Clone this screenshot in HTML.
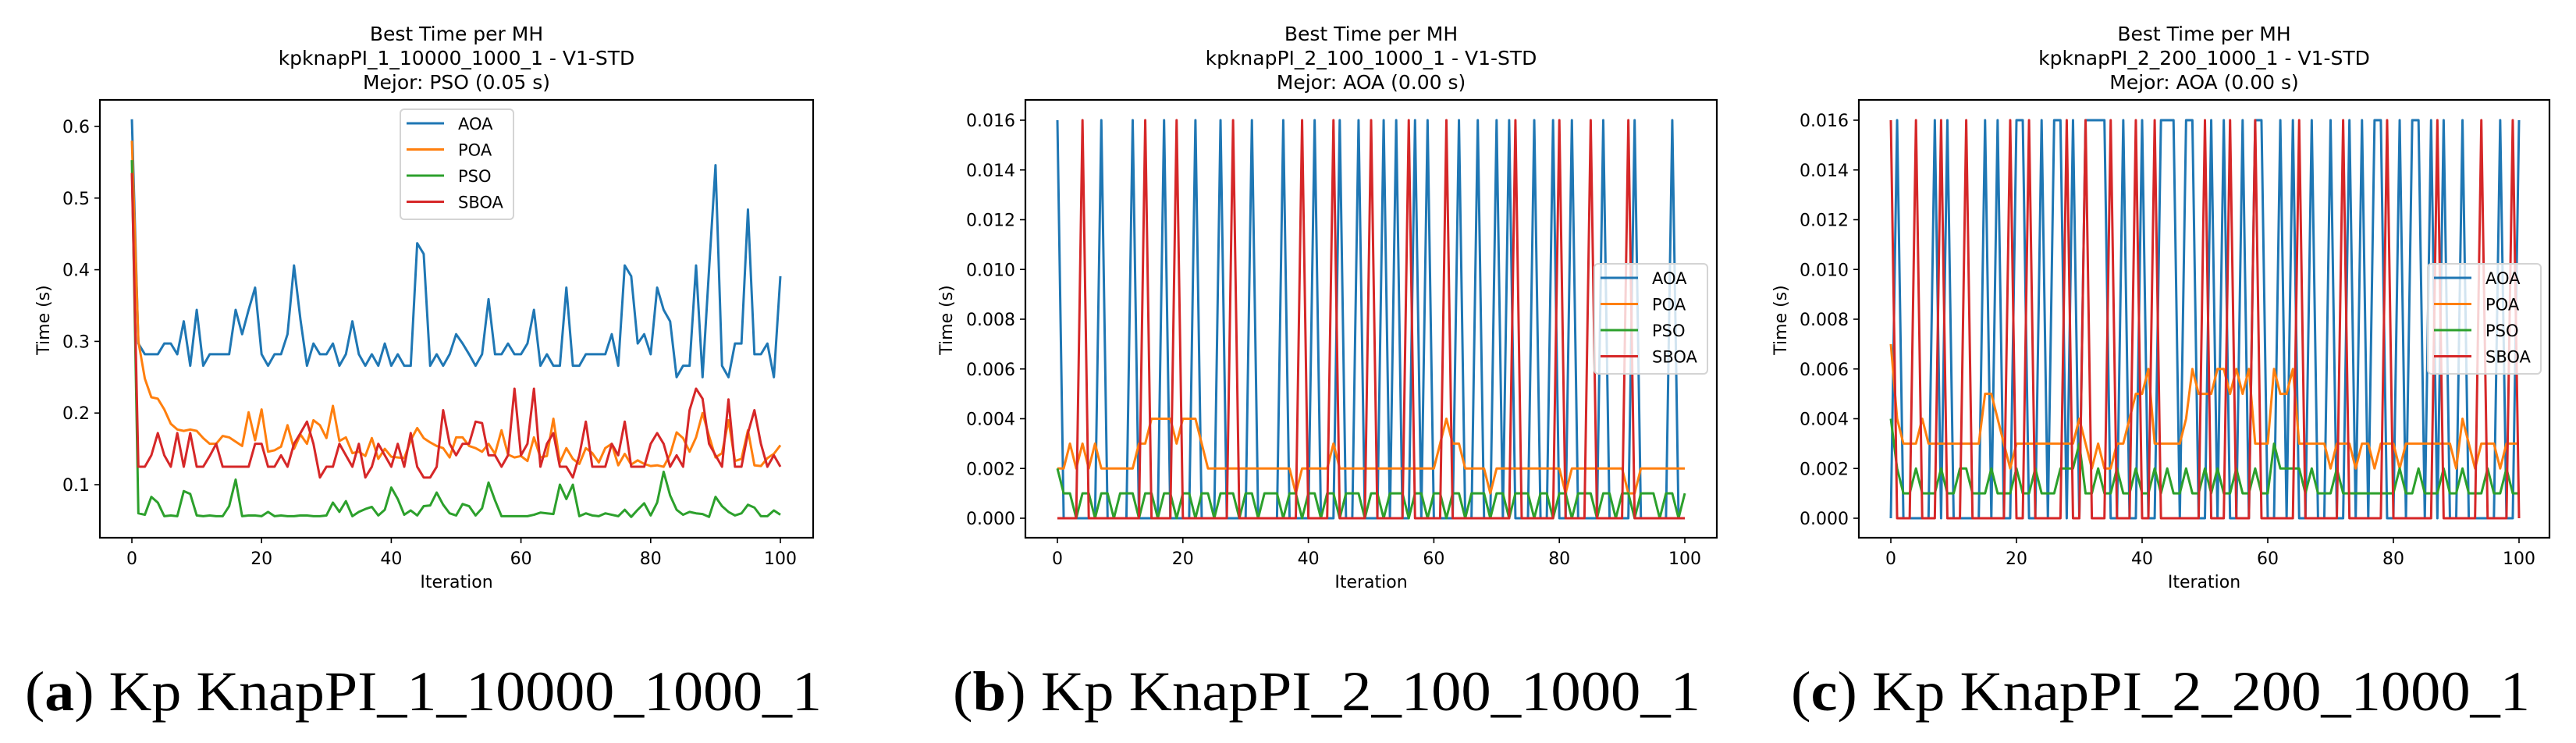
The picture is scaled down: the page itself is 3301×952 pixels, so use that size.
<!DOCTYPE html>
<html><head><meta charset="utf-8">
<style>
html,body{margin:0;padding:0;background:#fff;}
svg{display:block;}
text{font-family:"DejaVu Sans","Liberation Sans",sans-serif;fill:#000;}
.cap{font-family:"Liberation Serif",serif;font-size:72px;}
</style></head>
<body>
<svg id="fig" width="3301" height="952" viewBox="0 0 3301 952" xmlns="http://www.w3.org/2000/svg">
<rect x="0" y="0" width="3301" height="952" fill="#fff"/>
<text class="cap" x="32" y="910" textLength="1021" lengthAdjust="spacingAndGlyphs">(<tspan font-weight="bold">a</tspan>) Kp KnapPI_1_10000_1000_1</text>
<text class="cap" x="1221" y="910" textLength="958" lengthAdjust="spacingAndGlyphs">(<tspan font-weight="bold">b</tspan>) Kp KnapPI_2_100_1000_1</text>
<text class="cap" x="2295" y="910" textLength="947" lengthAdjust="spacingAndGlyphs">(<tspan font-weight="bold">c</tspan>) Kp KnapPI_2_200_1000_1</text>
</svg>
<script>
// ---- data ----
const seriesNames = ["AOA","POA","PSO","SBOA"];
const seriesColors = ["#1f77b4","#ff7f0e","#2ca02c","#d62728"];
const xTicks = [0,20,40,60,80,100];

// Panel a (seconds)
const aAOA = [0.61,0.297,0.282,0.282,0.282,0.297,0.297,0.282,0.328,0.266,
0.344,0.266,0.282,0.282,0.282,0.282,0.344,0.31,0.344,0.375,
0.282,0.266,0.282,0.282,0.31,0.406,0.33,0.266,0.297,0.282,
0.282,0.297,0.266,0.282,0.328,0.282,0.266,0.282,0.266,0.297,
0.266,0.282,0.266,0.266,0.437,0.422,0.266,0.282,0.266,0.282,
0.31,0.297,0.282,0.266,0.282,0.359,0.282,0.282,0.297,0.282,
0.282,0.297,0.344,0.266,0.282,0.266,0.266,0.375,0.266,0.266,
0.282,0.282,0.282,0.282,0.31,0.266,0.406,0.391,0.297,0.31,
0.282,0.375,0.344,0.328,0.25,0.266,0.266,0.406,0.25,0.4,
0.546,0.266,0.25,0.297,0.297,0.484,0.282,0.282,0.297,0.25,0.391];
const aPOA = [0.58,0.3,0.248,0.222,0.22,0.205,0.185,0.177,0.175,0.177,
0.175,0.165,0.157,0.157,0.168,0.166,0.16,0.154,0.201,0.162,
0.205,0.146,0.148,0.153,0.183,0.15,0.17,0.157,0.19,0.183,
0.165,0.21,0.161,0.166,0.144,0.146,0.14,0.165,0.136,0.15,
0.139,0.138,0.137,0.162,0.179,0.165,0.159,0.154,0.151,0.138,
0.166,0.166,0.154,0.151,0.146,0.157,0.143,0.176,0.142,0.138,
0.14,0.133,0.166,0.138,0.14,0.192,0.131,0.151,0.136,0.129,
0.151,0.144,0.131,0.151,0.157,0.127,0.143,0.128,0.134,0.129,
0.126,0.127,0.125,0.142,0.173,0.165,0.146,0.166,0.2,0.168,
0.138,0.144,0.19,0.133,0.136,0.176,0.127,0.126,0.137,0.143,0.155];
const aPSO = [0.553,0.06,0.058,0.083,0.075,0.056,0.057,0.056,0.091,0.087,
0.057,0.056,0.057,0.056,0.056,0.07,0.107,0.056,0.057,0.057,
0.056,0.062,0.056,0.057,0.056,0.056,0.057,0.057,0.056,0.056,
0.057,0.075,0.062,0.077,0.056,0.062,0.066,0.069,0.057,0.065,
0.096,0.08,0.058,0.064,0.057,0.07,0.071,0.089,0.072,0.06,
0.057,0.073,0.07,0.057,0.067,0.103,0.078,0.056,0.056,0.056,
0.056,0.056,0.058,0.061,0.06,0.059,0.1,0.08,0.1,0.056,
0.06,0.057,0.056,0.06,0.058,0.056,0.065,0.055,0.065,0.074,
0.057,0.075,0.118,0.085,0.065,0.058,0.062,0.06,0.059,0.055,
0.083,0.07,0.062,0.057,0.06,0.072,0.068,0.056,0.056,0.064,0.058];
const aSBOA = [0.535,0.125,0.125,0.141,0.172,0.141,0.125,0.172,0.125,0.172,
0.125,0.125,0.14,0.157,0.125,0.125,0.125,0.125,0.125,0.157,
0.157,0.125,0.125,0.141,0.125,0.157,0.172,0.188,0.157,0.11,
0.125,0.125,0.157,0.141,0.125,0.157,0.11,0.125,0.157,0.141,
0.125,0.157,0.125,0.172,0.125,0.11,0.11,0.125,0.204,0.157,
0.141,0.157,0.157,0.188,0.186,0.141,0.141,0.125,0.141,0.234,
0.141,0.157,0.234,0.125,0.157,0.172,0.125,0.125,0.11,0.141,
0.188,0.125,0.125,0.125,0.157,0.141,0.188,0.125,0.125,0.125,
0.157,0.172,0.157,0.125,0.141,0.125,0.204,0.234,0.22,0.157,
0.141,0.125,0.219,0.125,0.125,0.172,0.204,0.157,0.125,0.141,0.125];
const aYTicks = [0.1,0.2,0.3,0.4,0.5,0.6];
const aYLabels = ["0.1","0.2","0.3","0.4","0.5","0.6"];

// Panel b (milliseconds)
const bAOA = [16,0,0,0,0,0,0,16,0,0, 0,0,16,0,0,0,0,16,0,0, 0,0,16,0,0,0,16,0,0,0,
0,16,0,0,0,0,16,0,0,0, 0,16,0,0,0,16,0,0,16,0, 0,0,16,0,16,0,0,16,0,16,
0,0,0,0,16,0,0,16,0,0, 16,0,16,0,0,0,16,0,0,16, 0,0,16,0,0,0,0,16,0,0,
0,0,16,0,0,0,0,0,16,0, 0];
const bPOA = [2,2,3,2,3,2,3,2,2,2, 2,2,2,3,3,4,4,4,4,3, 4,4,4,3,2,2,2,2,2,2,
2,2,2,2,2,2,2,2,1,2, 2,2,2,2,3,2,2,2,2,2, 2,2,2,2,2,2,2,2,2,2,
2,3,4,3,3,2,2,2,2,1, 2,2,2,2,2,2,2,2,2,2, 2,1,2,2,2,2,2,2,2,2,
2,1,1,2,2,2,2,2,2,2, 2];
const bPSO = [2,1,1,0,1,1,0,1,1,0, 1,1,1,0,1,1,0,1,1,0, 1,1,0,1,1,0,1,1,1,0,
1,1,0,1,1,1,0,1,1,0, 1,1,0,1,1,0,1,1,1,0, 1,1,0,1,1,1,0,1,1,0,
1,1,0,1,1,0,1,1,1,0, 1,1,0,1,1,1,0,1,1,0, 1,1,0,1,1,1,0,1,1,0,
1,1,0,1,1,1,0,1,1,0, 1];
const bSBOA = [0,0,0,0,16,0,0,0,0,0, 0,0,0,0,16,0,0,0,0,16, 0,0,0,0,0,0,0,0,16,0,
0,0,0,0,0,0,0,0,0,16, 0,0,0,0,16,0,0,0,0,0, 16,0,0,0,0,0,16,0,0,0,
0,0,16,0,0,0,0,0,0,0, 0,0,0,16,0,0,0,0,0,0, 16,0,0,0,0,16,0,0,0,0,
0,16,0,0,0,0,0,0,0,0, 0];

// Panel c (milliseconds)
const cAOA = [0,16,0,0,0,0,0,16,0,16, 0,0,0,0,0,16,0,16,0,0, 16,16,0,0,16,0,16,16,0,16,
0,16,16,16,16,0,0,16,0,0, 16,0,0,16,16,16,0,16,16,0, 0,16,0,16,0,0,16,0,16,16,
0,0,16,0,16,0,0,16,0,0, 16,0,0,16,0,16,0,16,16,0, 0,16,0,16,16,0,16,0,16,0,
0,16,0,0,0,0,0,16,0,0, 16];
const cPOA = [7,4,3,3,3,4,3,3,3,3, 3,3,3,3,3,5,5,4,3,2, 3,3,3,3,3,3,3,3,3,3,
4,3,2,3,2,2,3,3,4,5, 5,6,3,3,3,3,3,4,6,5, 5,5,6,6,5,6,5,6,3,3,
3,6,5,5,6,3,3,3,3,3, 2,3,3,3,2,3,3,2,3,3, 3,2,3,3,3,3,3,3,3,3,
2,4,3,2,3,3,3,2,3,3, 3];
const cPSO = [4,2,1,1,2,1,1,1,2,1, 1,2,2,1,1,1,2,1,1,1, 2,1,1,2,1,1,1,2,2,2,
3,1,1,2,1,1,2,1,1,2, 1,1,2,1,2,1,1,2,1,1, 2,1,2,1,1,2,1,1,2,1,
1,3,2,2,2,2,1,2,1,1, 1,2,1,1,1,1,1,1,1,1, 1,2,1,1,2,1,1,1,2,1,
1,2,1,1,1,2,1,1,2,1, 1];
const cSBOA = [16,0,0,0,16,0,0,0,16,0, 0,0,16,0,0,0,0,0,0,16, 0,0,16,0,0,0,0,0,16,0,
0,16,0,0,0,16,0,0,0,16, 0,0,16,0,0,0,0,0,0,0, 16,0,0,0,16,0,0,0,16,0,
0,0,0,0,0,16,0,0,0,0, 0,0,16,0,0,0,0,0,0,16, 0,0,0,0,0,0,0,16,0,0,
0,0,0,0,16,0,0,0,0,16, 0];
const bcYTicks = [0,2,4,6,8,10,12,14,16];
const bcYLabels = ["0.000","0.002","0.004","0.006","0.008","0.010","0.012","0.014","0.016"];

// ---- drawing ----
const NS = "http://www.w3.org/2000/svg";
const svg = document.getElementById("fig");
function mk(tag, attrs, parent){
  const e = document.createElementNS(NS, tag);
  for (const k in attrs) e.setAttribute(k, attrs[k]);
  (parent||svg).appendChild(e);
  return e;
}

function drawPanel(p){
  const g = mk("g", {});
  
  
  const xs = i => p.x0 + (i - 0) * (p.x100 - p.x0) / 100;
  const ys = v => p.yA + (v - p.vA) * (p.yB - p.yA) / (p.vB - p.vA);

  // series lines
  p.series.forEach((arr, si) => {
    let d = "";
    arr.forEach((v, i) => { d += (i ? "L" : "M") + xs(i).toFixed(2) + " " + ys(v).toFixed(2); });
    const path = mk("path", {d: d, fill: "none", stroke: seriesColors[si], "stroke-width": 3, "stroke-linejoin": "round"}, g);
    
    
  });

  // frame
  const fr = mk("rect", {x: p.L, y: p.T, width: p.R - p.L, height: p.B - p.T, fill: "none", stroke: "#000", "stroke-width": 2.2}, g);
  
  

  // x ticks
  xTicks.forEach(t => {
    const x = xs(t);
    mk("line", {x1: x, x2: x, y1: p.B, y2: p.B + 7, stroke: "#000", "stroke-width": 1.6}, g);
    const tx = mk("text", {x: x, y: 723, "font-size": 22, "text-anchor": "middle"}, g);
    tx.textContent = String(t);
    
    
  });
  // y ticks
  p.yTicks.forEach((t, k) => {
    const y = ys(t);
    mk("line", {x1: p.L - 7, x2: p.L, y1: y, y2: y, stroke: "#000", "stroke-width": 1.6}, g);
    const ty = mk("text", {x: p.L - 13, y: y + 8, "font-size": 22, "text-anchor": "end"}, g);
    ty.textContent = p.yLabels[k];
    
    
  });

  // axis titles
  const cx = (p.L + p.R) / 2;
  const xl = mk("text", {x: cx, y: 753, "font-size": 22, "text-anchor": "middle"}, g);
  xl.textContent = "Iteration";
  
  
  const yl = mk("text", {x: 0, y: 0, "font-size": 22, "text-anchor": "middle", transform: "translate(" + p.ylabX + ",410) rotate(-90)"}, g);
  yl.textContent = "Time (s)";
  
  

  // title
  p.title.forEach((line, k) => {
    const t = mk("text", {x: cx, y: 52 + k * 31, "font-size": 25, "text-anchor": "middle"}, g);
    t.textContent = line;
    
    
  });

  // legend
  const lg = mk("g", {}, g);
  
  
  mk("rect", {x: p.lx, y: p.ly, width: 145, height: 141, rx: 5, fill: "#fff", "fill-opacity": 0.8, stroke: "#d4d4d4", "stroke-width": 2}, lg);
  seriesNames.forEach((n, si) => {
    const yy = p.ly + 18 + si * 33.5;
    const ln = mk("line", {x1: p.lx + 8, x2: p.lx + 56, y1: yy, y2: yy, stroke: seriesColors[si], "stroke-width": 3}, lg);
    
    
    const tt = mk("text", {x: p.lx + 74, y: yy + 8, "font-size": 21}, lg);
    tt.textContent = n;
    
    
  });
}

drawPanel({id: "panel-a", L: 128, R: 1042, T: 128, B: 689, x0: 169, x100: 1000,
  vA: 0.6, yA: 162, vB: 0.1, yB: 621, yTicks: aYTicks, yLabels: aYLabels, ylabX: 63,
  series: [aAOA, aPOA, aPSO, aSBOA], lx: 513, ly: 140,
  title: ["Best Time per MH", "kpknapPI_1_10000_1000_1 - V1-STD", "Mejor: PSO (0.05 s)"]});
drawPanel({id: "panel-b", L: 1314, R: 2200, T: 128, B: 689, x0: 1355, x100: 2159,
  vA: 16, yA: 154, vB: 0, yB: 664, yTicks: bcYTicks, yLabels: bcYLabels, ylabX: 1220,
  series: [bAOA, bPOA, bPSO, bSBOA], lx: 2043, ly: 338,
  title: ["Best Time per MH", "kpknapPI_2_100_1000_1 - V1-STD", "Mejor: AOA (0.00 s)"]});
drawPanel({id: "panel-c", L: 2382, R: 3267, T: 128, B: 689, x0: 2423, x100: 3228,
  vA: 16, yA: 154, vB: 0, yB: 664, yTicks: bcYTicks, yLabels: bcYLabels, ylabX: 2289,
  series: [cAOA, cPOA, cPSO, cSBOA], lx: 3111, ly: 338,
  title: ["Best Time per MH", "kpknapPI_2_200_1000_1 - V1-STD", "Mejor: AOA (0.00 s)"]});
</script>
</body></html>
